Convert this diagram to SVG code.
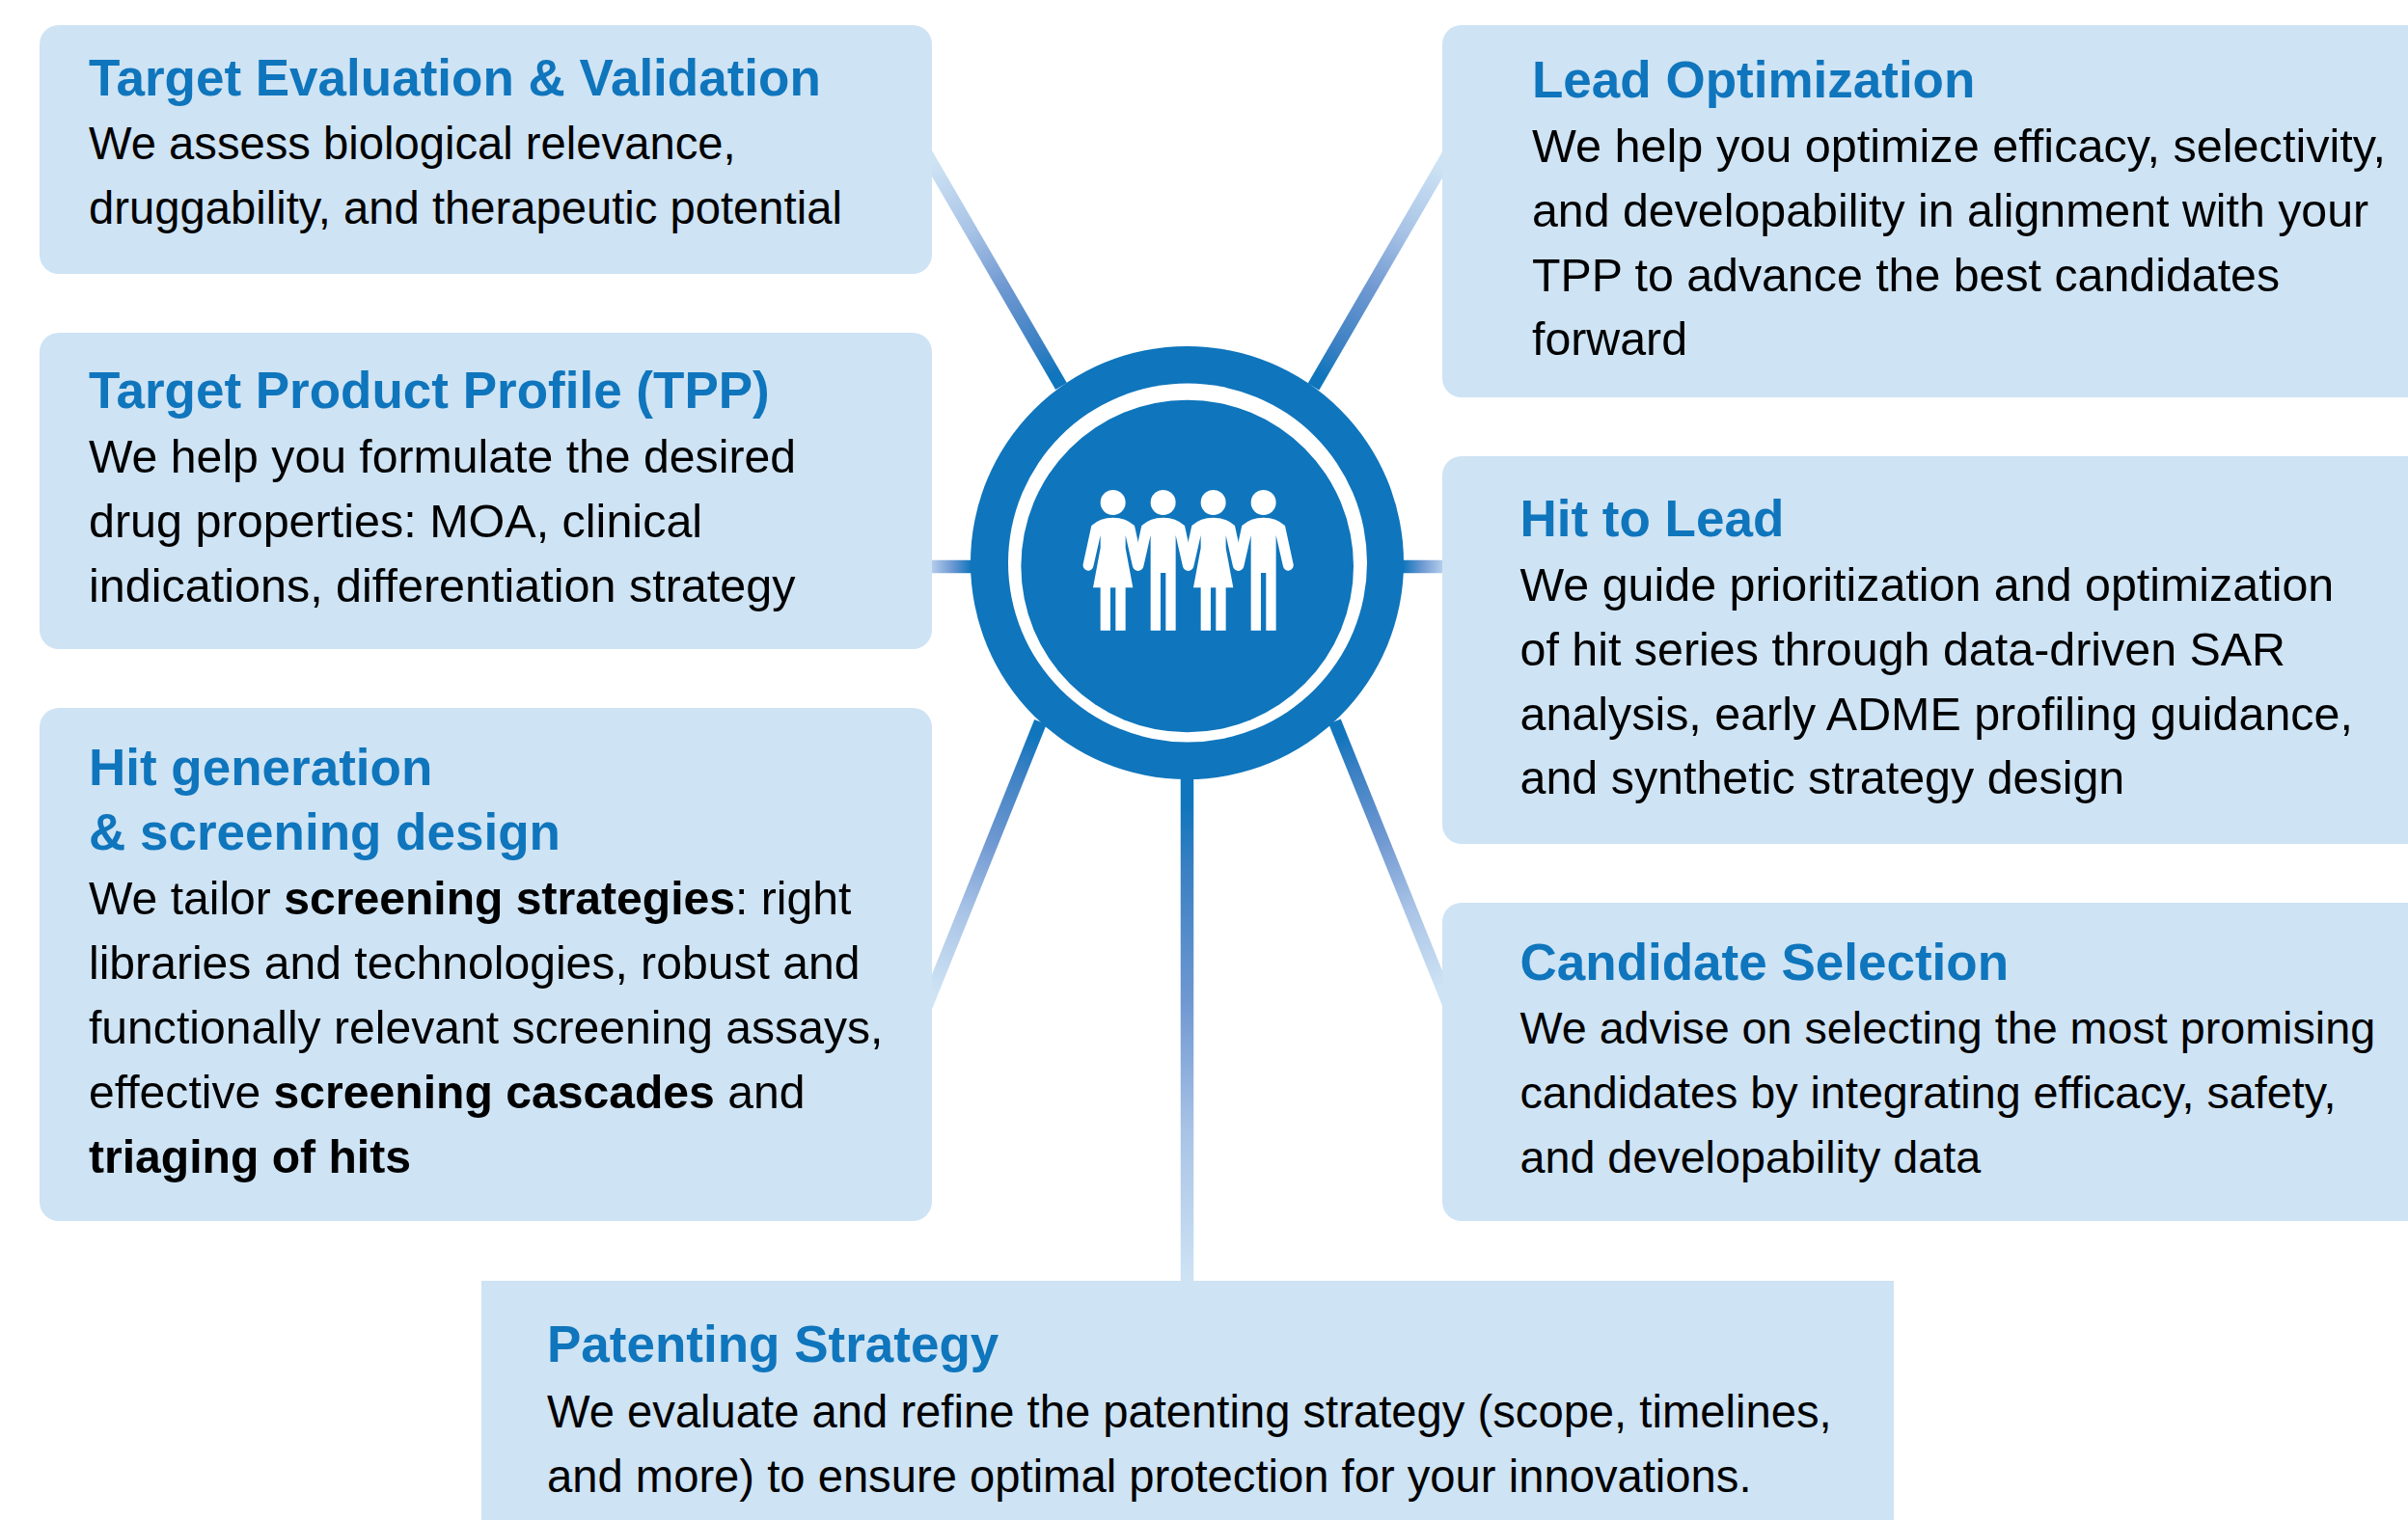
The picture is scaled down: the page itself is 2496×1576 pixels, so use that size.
<svg xmlns="http://www.w3.org/2000/svg" xmlns:xlink="http://www.w3.org/1999/xlink" width="2496" height="1576" viewBox="0 0 2496 1576">
<style>
.box{fill:#cee3f4}
.t{font-family:"Liberation Sans",Arial,sans-serif;font-size:53px;font-weight:700;fill:#0f75bc}
.b{font-family:"Liberation Sans",Arial,sans-serif;font-size:47.2px;fill:#000}
.b2{font-size:48.5px}
.b2a{font-size:48.2px}
.b3{font-size:48.1px}
.b4{font-size:48.3px}
.b4a{font-size:48.6px}
.b5{font-size:48.4px}
.b6{font-size:46.7px}
.s{font-weight:700}
.c{fill:none;stroke-width:13.5}
.a{stop-color:#cee3f4}.d{stop-color:#a8c3e6}.e{stop-color:#7199d2}.f{stop-color:#3a80c3}.h{stop-color:#0f75bc}
</style>
<defs>
<linearGradient id="ramp"><stop offset="0" class="a"/><stop offset=".3" class="d"/><stop offset=".55" class="e"/><stop offset=".82" class="f"/><stop offset=".95" class="h"/></linearGradient>
<linearGradient id="g1" href="#ramp" gradientUnits="userSpaceOnUse" x1="966" y1="169.5" x2="1100" y2="400.5"/>
<linearGradient id="g2" href="#ramp" gradientUnits="userSpaceOnUse" x1="1495" y1="171" x2="1361.5" y2="401"/>
<linearGradient id="g3" gradientUnits="userSpaceOnUse" x1="966" y1="587" x2="1007" y2="587"><stop offset="0" stop-color="#b4cceb"/><stop offset=".5" stop-color="#6f9ad2"/><stop offset="1" stop-color="#0f75bc"/></linearGradient>
<linearGradient id="g4" gradientUnits="userSpaceOnUse" x1="1495" y1="587" x2="1454" y2="587"><stop offset="0" stop-color="#b4cceb"/><stop offset=".5" stop-color="#6f9ad2"/><stop offset="1" stop-color="#0f75bc"/></linearGradient>
<linearGradient id="g5" href="#ramp" gradientUnits="userSpaceOnUse" x1="966" y1="1028.5" x2="1078.5" y2="748.5"/>
<linearGradient id="g6" href="#ramp" gradientUnits="userSpaceOnUse" x1="1495" y1="1024.5" x2="1383.5" y2="748"/>
<linearGradient id="g7" href="#ramp" gradientUnits="userSpaceOnUse" x1="1230" y1="1328" x2="1230" y2="808"/>
<g id="man"><circle cx="0" cy="123" r="39"/><path d="M-67,195Q-40,170 0,170Q40,170 67,195L93,315A16,16 0 0 1 61,322L39,225V521H8V342H-8V521H-39V225L-61,322A16,16 0 0 1 -93,315Z"/></g>
<g id="woman"><circle cx="0" cy="123" r="39"/><path d="M-67,195Q-40,170 0,170Q40,170 67,195L93,315A16,16 0 0 1 61,322L39,225V265L62,388H39V521H8V388H-8V521H-39V388H-62L-39,265V225L-61,322A16,16 0 0 1 -93,315Z"/></g>
<clipPath id="gap"><rect x="966" y="0" width="529" height="1328"/></clipPath>
</defs>
<rect width="2496" height="1576" fill="#fff"/>
<g id="connectors" clip-path="url(#gap)">
<path class="c" stroke="url(#g1)" d="M960,159.2L1100,400.5"/>
<path class="c" stroke="url(#g2)" d="M1501,160.7L1361.5,401"/>
<path class="c" stroke="url(#g3)" d="M966,587.5H1010"/>
<path class="c" stroke="url(#g4)" d="M1495,587.5H1451"/>
<path class="c" stroke="url(#g5)" d="M960,1043.4L1078.5,748.5"/>
<path class="c" stroke="url(#g6)" d="M1501,1039.4L1383.5,748"/>
<path class="c" stroke="url(#g7)" d="M1230.5,1328V805"/>
</g>
<g id="hub">
<circle cx="1230.5" cy="583.5" r="224.5" fill="#0f75bc"/>
<circle cx="1231" cy="583.5" r="186" fill="#fff"/>
<circle cx="1230.7" cy="587" r="172.3" fill="#0f75bc"/>
<g fill="#fff" transform="translate(1080,480) scale(.3333)">
<use href="#woman" x="221"/><use href="#man" x="377"/><use href="#woman" x="533"/><use href="#man" x="689"/>
</g>
</g>
<g id="node-target-evaluation">
<rect class="box" x="41" y="26" width="925" height="258" rx="20"/>
<text class="t" x="92" y="98.5">Target Evaluation &amp; Validation</text>
<text class="b" x="92" y="165">We assess biological relevance,</text>
<text class="b" x="92" y="232">druggability, and therapeutic potential</text>
</g>
<g id="node-tpp">
<rect class="box" x="41" y="345" width="925" height="328" rx="20"/>
<text class="t" x="92" y="423">Target Product Profile (TPP)</text>
<text class="b b2a" x="92" y="490">We help you formulate the desired</text>
<text class="b b2" x="92" y="557">drug properties: MOA, clinical</text>
<text class="b b2" x="92" y="624">indications, differentiation strategy</text>
</g>
<g id="node-hit-generation">
<rect class="box" x="41" y="734" width="925" height="532" rx="20"/>
<text class="t" x="92" y="814">Hit generation</text>
<text class="t" x="92" y="881">&amp; screening design</text>
<text class="b b3" x="92" y="948">We tailor <tspan class="s">screening strategies</tspan>: right</text>
<text class="b b3" x="92" y="1015">libraries and technologies, robust and</text>
<text class="b b3" x="92" y="1081.5">functionally relevant screening assays,</text>
<text class="b b3" x="92" y="1148.5">effective <tspan class="s">screening cascades</tspan> and</text>
<text class="b b3 s" x="92" y="1215.5">triaging of hits</text>
</g>
<g id="node-lead-optimization">
<path class="box" d="M2496,26H1515a20,20 0 0 0 -20,20V392a20,20 0 0 0 20,20H2496Z"/>
<text class="t" x="1588" y="100.5">Lead Optimization</text>
<text class="b b4a" x="1588" y="168">We help you optimize efficacy, selectivity,</text>
<text class="b b4" x="1588" y="235">and developability in alignment with your</text>
<text class="b b4" x="1588" y="301.5">TPP to advance the best candidates</text>
<text class="b b4" x="1588" y="368">forward</text>
</g>
<g id="node-hit-to-lead">
<path class="box" d="M2496,473H1515a20,20 0 0 0 -20,20V855a20,20 0 0 0 20,20H2496Z"/>
<text class="t" x="1575.5" y="556">Hit to Lead</text>
<text class="b b5" x="1575.5" y="623">We guide prioritization and optimization</text>
<text class="b b5" x="1575.5" y="690">of hit series through data-driven SAR</text>
<text class="b b5" x="1575.5" y="756.5">analysis, early ADME profiling guidance,</text>
<text class="b b5" x="1575.5" y="823">and synthetic strategy design</text>
</g>
<g id="node-candidate-selection">
<path class="box" d="M2496,936H1515a20,20 0 0 0 -20,20V1246a20,20 0 0 0 20,20H2496Z"/>
<text class="t" x="1575.5" y="1015.5">Candidate Selection</text>
<text class="b b6" x="1575.5" y="1081.5">We advise on selecting the most promising</text>
<text class="b b6" x="1575.5" y="1148.5">candidates by integrating efficacy, safety,</text>
<text class="b b6" x="1575.5" y="1215.5">and developability data</text>
</g>
<g id="node-patenting-strategy">
<rect class="box" x="499" y="1328" width="1464" height="248"/>
<text class="t" x="567" y="1411.5">Patenting Strategy</text>
<text class="b" x="567" y="1479.5">We evaluate and refine the patenting strategy (scope, timelines,</text>
<text class="b" x="567" y="1546.5">and more) to ensure optimal protection for your innovations.</text>
</g>
</svg>
